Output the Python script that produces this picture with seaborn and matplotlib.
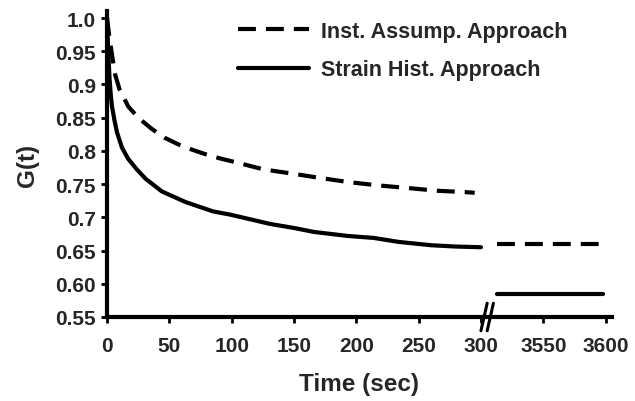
import numpy as np
import pandas as pd
import matplotlib
matplotlib.use("Agg")
import matplotlib.pyplot as plt
import seaborn as sns
from matplotlib.ticker import AutoMinorLocator
import matplotlib.transforms as mtransforms

# ---- data ----
inst_t = [0, 2, 4, 6.5, 10, 17, 25, 36, 46, 57, 68, 79, 90, 103, 126, 148, 172,
          194, 218, 242, 265, 287, 295]
inst_g = [1.0, 0.97, 0.945, 0.915, 0.893, 0.867, 0.85, 0.833, 0.82, 0.81, 0.802,
          0.795, 0.789, 0.783, 0.772, 0.766, 0.759, 0.753, 0.748, 0.744, 0.740,
          0.738, 0.737]
strain_t = [0, 1, 2, 3, 4, 6, 8, 12, 17, 24, 31, 44, 63, 85, 99, 115, 131, 150,
            166, 193, 214, 234, 260, 280, 300]
strain_g = [1.0, 0.95, 0.91, 0.885, 0.867, 0.846, 0.828, 0.805, 0.788, 0.772,
            0.758, 0.739, 0.723, 0.709, 0.704, 0.697, 0.690, 0.684, 0.678, 0.672,
            0.669, 0.663, 0.658, 0.656, 0.655]
late_t = [3513, 3598]
inst_late_g = [0.66, 0.66]
strain_late_g = [0.585, 0.585]

xtick_vals = [0, 50, 100, 150, 200, 250, 300, 3550, 3600]
xtick_labels = ["0", "50", "100", "150", "200", "250", "300", "3550", "3600"]
ytick_vals = [0.55, 0.60, 0.65, 0.70, 0.75, 0.80, 0.85, 0.90, 0.95, 1.0]
ytick_labels = ["0.55", "0.60", "0.65", "0.7", "0.75", "0.8", "0.85", "0.9", "0.95", "1.0"]

BREAK_FROM, BREAK_TO = 300, 3500


def pos(t):
    t = np.asarray(t, dtype=float)
    return np.where(t < BREAK_TO, t, t - (BREAK_TO - BREAK_FROM))


sns.set_theme(style="white")
plt.rcParams["font.family"] = ["Liberation Sans", "DejaVu Sans"]
plt.rcParams["font.weight"] = "bold"

fig = plt.figure(figsize=(6.35, 4.02), dpi=100)
ax = fig.add_axes([0.1685, 0.209, 0.795, 0.761])

lw = 3.0
dash = (4.3, 2.4)

segs = [
    ("Inst. Assump. Approach", inst_t, inst_g, True),
    ("Strain Hist. Approach", strain_t, strain_g, True),
    ("Inst. Assump. Approach", late_t, inst_late_g, False),
    ("Strain Hist. Approach", late_t, strain_late_g, False),
]
for name, tt, gg, lab in segs:
    df = pd.DataFrame({"pos": pos(tt), "G": gg})
    ls = (0, dash) if name.startswith("Inst") else "-"
    sns.lineplot(data=df, x="pos", y="G", ax=ax, color="black", lw=lw,
                 linestyle=ls, label=name if lab else None, sort=False,
                 estimator=None)

ax.set_xlim(0, 405)
ax.set_ylim(0.55, 1.0105)
ax.set_xticks(pos(xtick_vals))
ax.set_xticklabels(xtick_labels)
ax.set_yticks(ytick_vals)
ax.set_yticklabels(ytick_labels)
ax.xaxis.set_minor_locator(AutoMinorLocator(5))
ax.yaxis.set_minor_locator(AutoMinorLocator(5))

for s in ["top", "right"]:
    ax.spines[s].set_visible(False)
for s in ["left", "bottom"]:
    ax.spines[s].set_linewidth(3)
    ax.spines[s].set_color("black")

ax.tick_params(axis="both", which="major", direction="out", length=4, width=2,
               color="black", labelsize=15, bottom=True, left=True)
ax.tick_params(axis="x", which="major", pad=10)
ax.tick_params(axis="y", which="major", pad=4)
ax.tick_params(axis="both", which="minor", direction="inout", length=3, width=1.5,
               color="black", bottom=True, left=True)
for lbl in ax.get_xticklabels() + ax.get_yticklabels():
    lbl.set_fontweight("bold")

ax.set_xlabel("Time (sec)", fontsize=17.5, fontweight="bold", labelpad=12)
ax.set_ylabel("G(t)", fontsize=17.5, fontweight="bold", labelpad=12)

# axis-break marks
trans = mtransforms.blended_transform_factory(ax.transData, ax.transAxes)
bx = BREAK_FROM
for off in (2.5, 7.5):
    ax.plot([bx + off - 2.5, bx + off + 2.5], [-0.045, 0.045], transform=trans,
            color="black", lw=2.2, clip_on=False)

leg = ax.legend(loc="upper left", bbox_to_anchor=(238 / 635, 1 - 22 / 402),
                bbox_transform=fig.transFigure, frameon=False,
                borderaxespad=0, borderpad=0,
                handlelength=3.3, handletextpad=0.55,
                labelspacing=0.8, prop={"weight": "bold", "size": 15.5})

fig.savefig("out.png", dpi=100)
